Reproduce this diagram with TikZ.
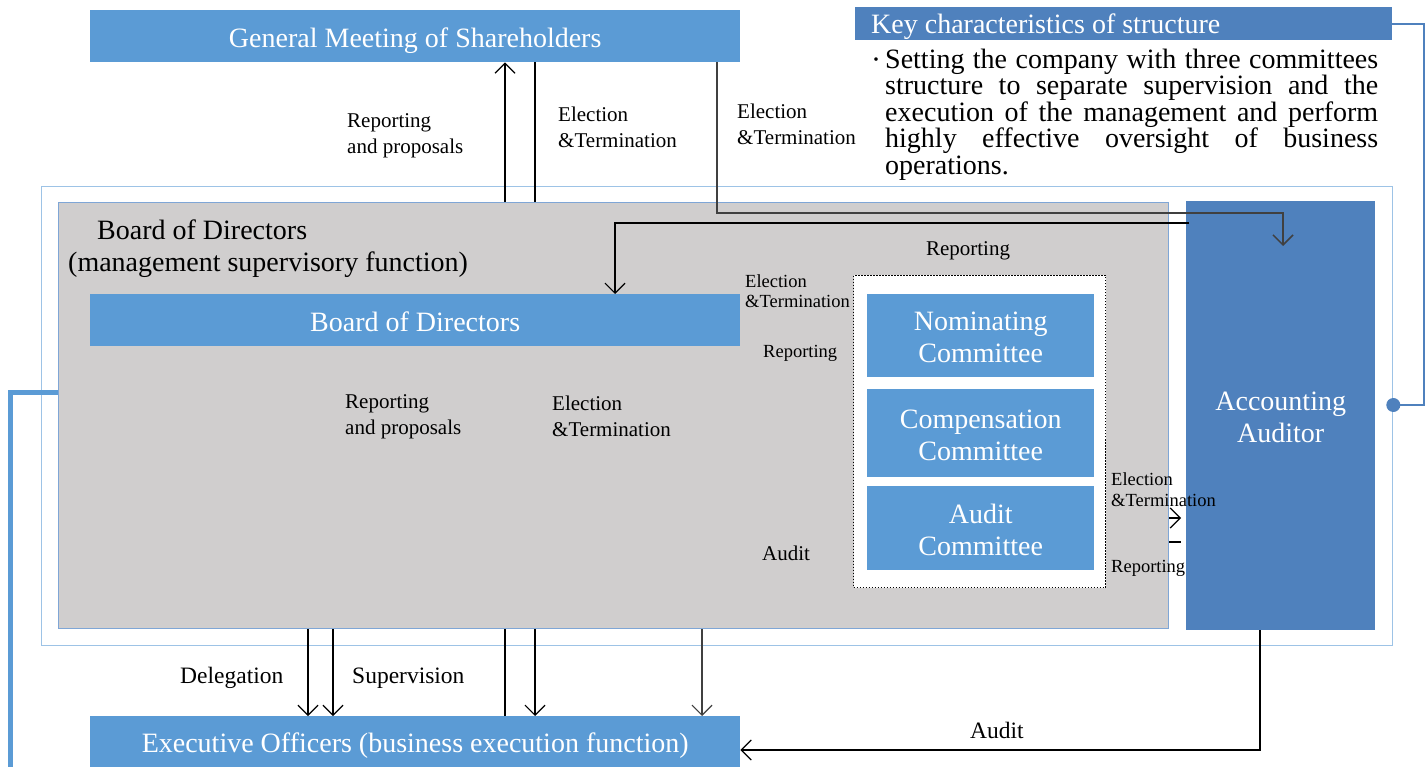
\documentclass[tikz,border=0pt]{standalone}
\usepackage{fontspec}
\setmainfont{Liberation Serif}
\usetikzlibrary{arrows.meta}
\definecolor{boxblue}{HTML}{5B9BD5}
\definecolor{darkblue}{HTML}{4F81BD}
\definecolor{boardgray}{HTML}{D0CECE}
\definecolor{framecol}{HTML}{9DC3E6}
\definecolor{edgeblue}{HTML}{7FA6D6}
\definecolor{linegray}{HTML}{404040}
\newcommand\fsz[2]{\fontsize{#1}{#2}\selectfont}
\hbadness=10000
\begin{document}
\begin{tikzpicture}[x=1pt,y=-1pt,
  bluebox/.style={fill=boxblue, inner sep=0pt, anchor=north west},
  auditbox/.style={fill=darkblue, inner sep=0pt, anchor=north west},
  boxtext/.style={text=white, inner sep=0pt, font=\fsz{28}{32}, align=center},
  lblA/.style={inner sep=0pt, anchor=west, align=left, font=\fsz{21}{26}},
  lblB/.style={inner sep=0pt, anchor=west, align=left, font=\fsz{18.5}{20.5}},
  lblC/.style={inner sep=0pt, anchor=west, align=left, font=\fsz{23.5}{27}},
  ln/.style={line width=1.2pt, black},
  arr/.style={ln, -{Straight Barb[length=10pt,width=20pt]}},
]
\useasboundingbox (0,0) rectangle (1427,767);

% frames
\node[draw=framecol, line width=1.3pt, anchor=north west, minimum width=1351pt, minimum height=459pt, inner sep=0pt] (frame) at (41,186) {};
\node[fill=boardgray, draw=edgeblue, line width=1pt, anchor=north west, minimum width=1110pt, minimum height=426pt, inner sep=0pt] (gray) at (58,202) {};

% top boxes
\node[bluebox, minimum width=650pt, minimum height=52pt] (gms) at (90,10) {};
\node[boxtext] (gmsT) at ([yshift=-4pt]gms.center) {General Meeting of Shareholders};
\node[fill=darkblue, anchor=north west, minimum width=537pt, minimum height=33pt, inner sep=0pt] (key) at (855,7) {};
\node[inner sep=0pt, anchor=west, text=white, font=\fsz{28}{32}] (keytxt) at (871,27) {Key characteristics of structure};
\node[inner sep=0pt, anchor=base west, font=\fsz{30}{30}] (bullet) at (871,67) {\raisebox{-2.5pt}{·}};
\node[anchor=north west, inner sep=0pt, text width=493pt, align=justify, font=\fsz{28}{26.5}] (keybody) at (885,48.5)
 {Setting the company with three committees\linebreak structure to separate supervision and the\linebreak execution of the management and perform\linebreak highly effective oversight of business\linebreak operations.};

% board titles
\node[inner sep=0pt, anchor=west, font=\fsz{28}{32}] (bdtitle) at (97,230) {Board of Directors};
\node[inner sep=0pt, anchor=west, font=\fsz{28}{32}] (bdsub) at (68,265) {(management supervisory function)};

\node[bluebox, minimum width=650pt, minimum height=52pt] (bod) at (90,294) {};
\node[boxtext] (bodT) at ([yshift=-1.5pt]bod.center) {Board of Directors};

% committees
\node[draw, dash pattern=on 1.5pt off 1.5pt, fill=white, line width=1pt, anchor=north west, minimum width=252pt, minimum height=312pt, inner sep=0pt] (comm) at (853,275) {};
\node[bluebox, minimum width=227pt, minimum height=83pt] (nom) at (867,294) {};
\node[boxtext] (nomT) at ([yshift=-2pt]nom.center) {Nominating\\Committee};
\node[bluebox, minimum width=227pt, minimum height=88pt] (comp) at (867,389) {};
\node[boxtext] (compT) at ([yshift=-2pt]comp.center) {Compensation\\Committee};
\node[bluebox, minimum width=227pt, minimum height=84pt] (audc) at (867,486) {};
\node[boxtext] (audcT) at ([yshift=-1.5pt]audc.center) {Audit\\Committee};

\node[auditbox, minimum width=189pt, minimum height=429pt] (aa) at (1186,201) {};
\node[boxtext] (aaT) at ([yshift=-2pt]aa.center) {Accounting\\Auditor};

\node[bluebox, minimum width=650pt, minimum height=54pt] (exec) at (90,716) {};
\node[boxtext] (execT) at ([yshift=-2pt]exec.center) {Executive Officers (business execution function)};

% left thick line
\draw[boxblue, line width=5pt] (gray.west |- 0,392) -- (10,392) -- (10,772);

% right connector with dot
\coordinate (dot) at (frame.east |- 0,405);
\draw[darkblue, line width=2pt] (key.east) -- (1424,0 |- key.east) -- (1424,405) -- (dot);
\fill[darkblue] (dot) circle (7pt);

% top connectors
\draw[arr] (505,0 |- gray.north) -- (505,0 |- gms.south);
\draw[ln] (535,0 |- gms.south) -- (535,0 |- gray.north);
\coordinate (aaIn) at (1283,246);
\draw[arr, linegray, line width=1.5pt] (717,0 |- gms.south) -- (717,213) -- (1283,213) -- (aaIn);
\draw[arr] ([xshift=3pt]aa.west |- 0,223) -- (615,223) -- (615,0 |- bod.north);

% bottom connectors
\draw[arr] (308,0 |- gray.south) -- (308,0 |- exec.north);
\draw[arr] (333,0 |- gray.south) -- (333,0 |- exec.north);
\draw[ln] (505,0 |- exec.north) -- (505,0 |- gray.south);
\draw[arr] (535,0 |- gray.south) -- (535,0 |- exec.north);
\draw[arr, linegray] (702,0 |- gray.south) -- (702,0 |- exec.north);
\draw[arr] (1260,0 |- aa.south) -- (1260,750) -- (exec.east |- 0,750);

% small fragments between committees and auditor
\draw[arr] (gray.east |- 0,518) -- (1181,518);
\draw[ln] (gray.east |- 0,542) -- (1181,542);

% labels
\node[lblA] (l1) at (347,136) {Reporting\\and proposals};
\node[lblA] (l2) at (558,127) {Election\\\&Termination};
\node[lblA] (l3) at (737,124.5) {Election\\\&Termination};
\node[lblA, anchor=center] (l4) at (968,251) {Reporting};
\node[lblB] (l5) at (745,291) {Election\\\&Termination};
\node[lblB] (l6) at (763,353) {Reporting};
\node[lblA] (l7) at (345,417) {Reporting\\and proposals};
\node[lblA] (l8) at (552,416.5) {Election\\\&Termination};
\node[lblA] (l9) at (762,553) {Audit};
\node[lblB] (l10) at (1111,489.5) {Election\\\&Termination};
\node[lblB] (l11) at (1111,568) {Reporting};
\node[lblC] (l12) at (180,678) {Delegation};
\node[lblC] (l13) at (352,678) {Supervision};
\node[lblC, anchor=center] (l14) at (997,730) {Audit};
\end{tikzpicture}
\end{document}
